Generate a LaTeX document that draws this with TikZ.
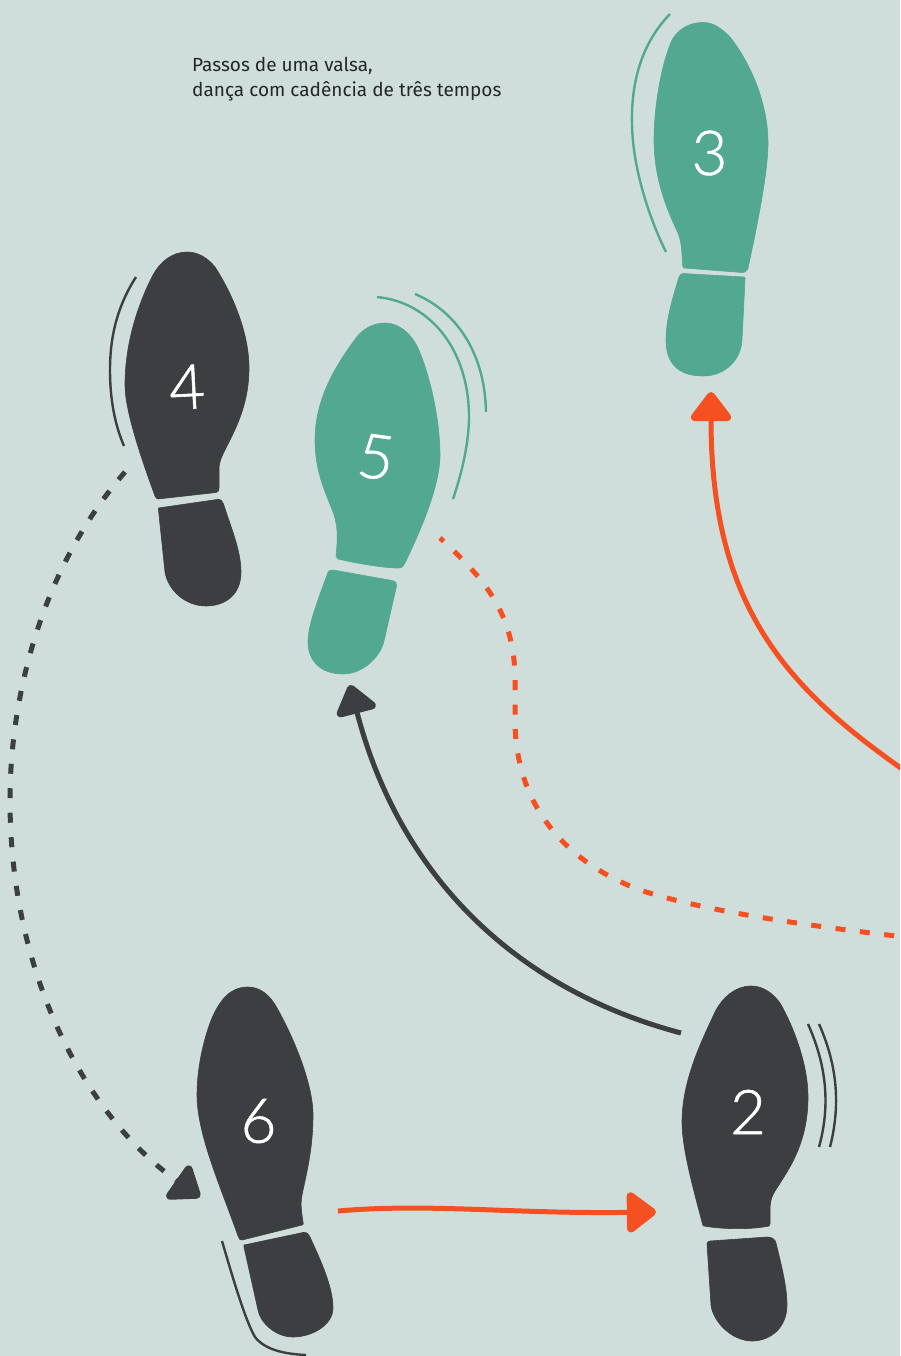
\documentclass[tikz,border=0pt]{standalone}
\usepackage{fontspec}
\setmainfont{Fira Sans}
\newfontfamily\numfont[FakeBold=0.9]{Lato Light}
\usetikzlibrary{arrows.meta}
\definecolor{bgc}{HTML}{CFDEDA}
\definecolor{greenc}{HTML}{52A891}
\definecolor{darkc}{HTML}{3D3E42}
\definecolor{orangec}{HTML}{F45022}
\tikzset{
  part/.style={draw=#1,fill=#1,line width=.6pt,line join=round},
  motion/.style={draw=#1,line width=2.4pt},
  num/.style={text=white,font=\numfont\fontsize{62}{62}\selectfont,inner sep=0pt},
  caption/.style={text=black!85,font=\fontsize{19}{25}\selectfont,align=left,anchor=north west,inner sep=0pt},
  conn/.style={draw=#1,line width=5pt},
  tip/.style={-{Triangle[length=32pt,width=46pt,line width=8pt,round,fill=#1,color=#1]}},
  dashA/.style={dash pattern=on 10pt off 14.5pt},
}
\begin{document}
\begin{tikzpicture}[x=1pt,y=-1pt]
\useasboundingbox (0,0) rectangle (900,1356);
\fill[bgc] (0,0) rectangle (900,1356);
\clip (0,0) rectangle (900,1356);
\node[caption] (title) at (192,57) {Passos de uma valsa,\\dança com cadência de três tempos};

% foot 3
\path[part=greenc] (684,268) -- (742,272.5) .. controls (746,272.5) and (748,270) .. (748.5,266) .. controls (755,235) and (768,175) .. (768,143) .. controls (768,105) and (752,65) .. (730,37) .. controls (720,27) and (712,22) .. (702,22.5) .. controls (685,23) and (676,33) .. (672,40) .. controls (662,62) and (654,105) .. (654,140) .. controls (654,180) and (668,212) .. (678,233) .. controls (682,243) and (682,255) .. (682.5,263) .. controls (682.5,266) and (683,267.5) .. cycle;
\path[part=greenc] (683,273.5) -- (744,277) .. controls (745,277.3) and (745.3,278) .. (745,280) -- (742,340) .. controls (741,360) and (725,376) .. (703,376) .. controls (680,376) and (666,365) .. (666,340) .. controls (666,320) and (672,300) .. (679,277) .. controls (680,275) and (681,273.5) .. cycle;
\node[num] (n3) at (709.5,153) {3};
\path[motion=greenc] (670,14) .. controls (640,45) and (631,85) .. (632,125) .. controls (633,170) and (650,220) .. (666,252);

% foot 5
\path[part=greenc] (338,559) .. controls (360,564) and (385,568) .. (398,568) .. controls (402,568) and (404,566) .. (405,563) .. controls (415,542) and (440,490) .. (440,455) .. controls (440,420) and (430,375) .. (418,348) .. controls (412,335) and (400,323) .. (385,323) .. controls (372,323) and (362,330) .. (356,338) .. controls (340,360) and (315,395) .. (315,440) .. controls (315,475) and (328,497) .. (334,515) .. controls (339,530) and (337,545) .. (336,556) -- cycle;
\path[part=greenc] (333,570) -- (392,580.5) .. controls (396,581.5) and (397,583) .. (396.5,586) -- (384,641) .. controls (380,658) and (362,674) .. (343,674) .. controls (320,674) and (308,660) .. (308,642) .. controls (308,625) and (318,600) .. (327,575) .. controls (328,571) and (330,569.5) .. cycle;
\node[num,rotate=-8] (n5) at (376,457) {5};
\path[motion=greenc] (377,297) .. controls (430,302) and (470,350) .. (469,420) .. controls (468,450) and (460,478) .. (453,499);
\path[motion=greenc] (415,294) .. controls (458,312) and (485,355) .. (486,412);

% foot 4
\path[part=darkc] (158,499) -- (216,492.5) .. controls (218.5,492) and (219,490) .. (219,488) -- (219,470) .. controls (219,462) and (221,458) .. (225,450) .. controls (235,430) and (249,405) .. (249,368) .. controls (249,330) and (230,290) .. (215,267) .. controls (207,257) and (197,252) .. (187,252) .. controls (172,252) and (160,262) .. (153,275) .. controls (140,300) and (125,340) .. (125,385) .. controls (125,410) and (140,455) .. (155,496) .. controls (156,498) and (157,499) .. cycle;
\path[part=darkc] (158.5,508) -- (217,499.5) .. controls (221,499) and (222.5,501) .. (223.5,504) .. controls (230,525) and (241,550) .. (241,572) .. controls (241,595) and (225,606) .. (206,606) .. controls (185,606) and (168,590) .. (165,572) -- (158.5,510) -- cycle;
\node[num,rotate=3] (n4) at (187,387) {4};
\path[motion=darkc] (136,277) .. controls (118,305) and (110,335) .. (110,370) .. controls (110,400) and (115,425) .. (124,446);

% foot 6
\path[part=darkc] (242,1240) -- (302,1225) .. controls (303.5,1224.5) and (303.5,1224) .. (303,1222) .. controls (302,1215) and (300,1205) .. (302,1195) .. controls (306,1175) and (313,1150) .. (313,1115) .. controls (313,1085) and (295,1040) .. (277,1008) .. controls (270,995) and (260,987) .. (248,987) .. controls (230,987) and (220,1000) .. (212,1018) .. controls (205,1035) and (197,1065) .. (197,1095) .. controls (197,1135) and (222,1190) .. (238,1236) .. controls (239,1239) and (240,1240) .. cycle;
\path[part=darkc] (244,1245) -- (303,1232.5) .. controls (307,1232) and (309,1234) .. (310,1237) .. controls (318,1255) and (333,1285) .. (333,1308) .. controls (333,1325) and (312,1337) .. (293,1337) .. controls (275,1337) and (260,1322) .. (258,1310) -- (244,1247) -- cycle;
\node[num] (n6) at (258.5,1121) {6};
\path[motion=darkc] (222,1241) .. controls (232,1275) and (245,1320) .. (255,1337) .. controls (265,1350) and (285,1354) .. (306,1355);

% foot 2
\path[part=darkc] (704,1226) .. controls (720,1229) and (750,1230) .. (769,1226) .. controls (770,1225.5) and (770,1225) .. (770,1224) -- (770,1210) .. controls (770,1195) and (775,1192) .. (782,1180) .. controls (795,1160) and (808,1135) .. (808,1097) .. controls (808,1060) and (790,1020) .. (780,1003) .. controls (772,992) and (762,986) .. (751,986) .. controls (735,986) and (722,998) .. (715,1012) .. controls (702,1040) and (682,1080) .. (682,1122) .. controls (682,1150) and (695,1195) .. (702,1222) .. controls (702.5,1225) and (703,1226) .. cycle;
\path[part=darkc] (707,1244) .. controls (707,1242) and (708,1241.5) .. (710,1241) -- (767,1237) .. controls (772,1237) and (775,1239) .. (776,1243) .. controls (780,1260) and (787,1285) .. (787,1305) .. controls (787,1328) and (770,1341) .. (752,1341) .. controls (732,1341) and (713,1322) .. (711,1305) -- cycle;
\node[num] (n2) at (748,1112) {2};
\path[motion=darkc] (808,1024) .. controls (824,1060) and (832,1100) .. (819,1147);
\path[motion=darkc] (819,1024) .. controls (835,1060) and (842,1100) .. (830,1147);

% connectors
\coordinate (o3s) at (905,771);
\coordinate (o3e) at (711,392);
\draw[conn=orangec,tip=orangec] (o3s) .. controls (790,690) and (711,610) .. (o3e);

\coordinate (o2s) at (338,1211);
\coordinate (o2e) at (656,1212);
\draw[conn=orangec,tip=orangec] (o2s) .. controls (430,1203) and (510,1214) .. (o2e);

\coordinate (d5s) at (681,1033);
\coordinate (d5e) at (350,685);
\draw[conn=darkc,tip=darkc] (d5s) .. controls (500,985) and (395,860) .. (d5e);

\coordinate (d6s) at (125,472);
\coordinate (d6m) at (10,800);
\coordinate (d6e) at (200,1197);
\draw[conn=darkc,dashA,tip=darkc] (d6s) .. controls (40,570) and (10,700) .. (d6m) .. controls (10,980) and (90,1120) .. (d6e);

\coordinate (o5s) at (440,538);
\coordinate (o5e) at (905,937);
\draw[conn=orangec,dash pattern=on 10pt off 14.5pt,dash phase=5pt] (o5s) .. controls (480,575) and (515,610) .. (515,680) -- (515,720) .. controls (515,800) and (560,860) .. (640,890) .. controls (700,910) and (800,925) .. (o5e);
\end{tikzpicture}
\end{document}
